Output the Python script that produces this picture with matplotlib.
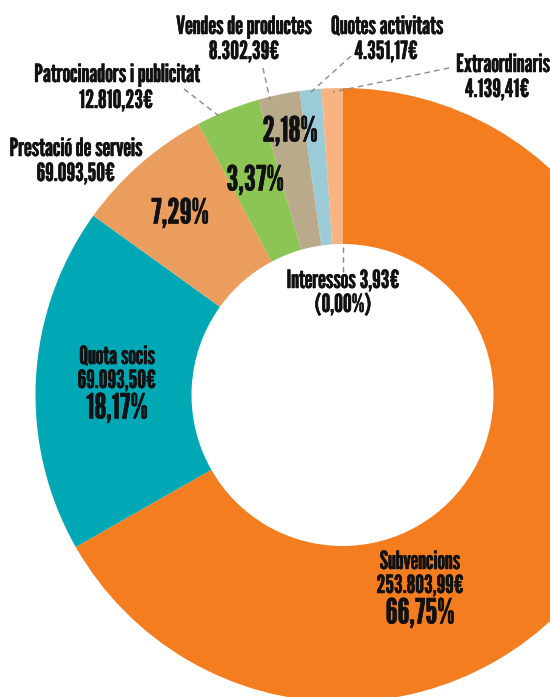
import matplotlib.pyplot as plt
import matplotlib.patheffects as pe

# Ingressos: share of total (%) in clockwise order from 12 o'clock
categories = [
    "Subvencions",
    "Quota socis",
    "Prestació de serveis",
    "Patrocinadors i publicitat",
    "Vendes de productes",
    "Quotes activitats",
    "Extraordinaris",
    "Interessos",
]
percentages = [66.75, 18.17, 7.29, 3.37, 2.18, 1.14, 1.09, 0.001]
amounts = [
    "253.803,99€",
    "69.093,50€",
    "69.093,50€",
    "12.810,23€",
    "8.302,39€",
    "4.351,17€",
    "4.139,41€",
    "3,93€",
]
colors = ["#F47D20", "#00A8B5", "#EB9D5E", "#8CC553", "#B9AA8B", "#9ACBD7", "#F9B380", "#F9B380"]

W, H = 550, 697
FONT = ["League Gothic", "DejaVu Sans"]
INK = "#111111"


def pct(p):
    return f"{p:.2f}%".replace(".", ",")


def put(x, y, s, size):
    # x, y given in pixels from the top-left corner of the picture
    ax.text(x, H - y, s, fontsize=size, family=FONT, ha="center", va="center",
            color=INK, path_effects=[pe.withStroke(linewidth=0.35, foreground=INK)])


def leader(p0, p1):
    ax.plot([p0[0], p1[0]], [H - p0[1], H - p1[1]], color="#8a8a8a", lw=1.0,
            ls=(0, (4, 3)), zorder=3)


fig = plt.figure(figsize=(W / 100, H / 100), dpi=100)
ax = fig.add_axes([0, 0, 1, 1])

ax.pie(
    percentages,
    colors=colors,
    startangle=90,
    counterclock=False,
    center=(342.5, H - 395),
    radius=307,
    wedgeprops=dict(width=156, linewidth=0),
)
ax.set_xlim(0, W)
ax.set_ylim(0, H)
ax.set_aspect("equal")
ax.axis("off")

lab, big = 18, 25

# labels inside the big wedges
put(420, 562, categories[0], lab)
put(420, 586, amounts[0], lab)
put(420, 614, pct(percentages[0]), big)

put(117, 357, categories[1], lab)
put(117, 381, amounts[1], lab)
put(117, 409, pct(percentages[1]), big)

# outside labels
put(76, 149, categories[2], lab)
put(76, 174, amounts[2], lab)
put(180, 214, pct(percentages[2]), big)

put(117, 75, categories[3], lab)
put(116, 101, amounts[3], lab)
put(255, 181, pct(percentages[3]), big)
leader((184, 89), (219, 116))

put(244, 27, categories[4], lab)
put(244, 52, amounts[4], lab)
put(290, 132, pct(percentages[4]), big)
leader((263, 68), (270, 100))

put(387, 27, categories[5], lab)
put(386, 52, amounts[5], lab)
leader((351, 56), (310, 93))

put(503, 65, categories[6], lab)
put(497, 90, amounts[6], lab)
leader((449, 68), (333, 92))

put(343, 281, f"{categories[7]} {amounts[7]}", lab)
put(343, 305, "(0,00%)", lab)
leader((343, 247), (343, 272))

fig.savefig("out.png", dpi=100)
